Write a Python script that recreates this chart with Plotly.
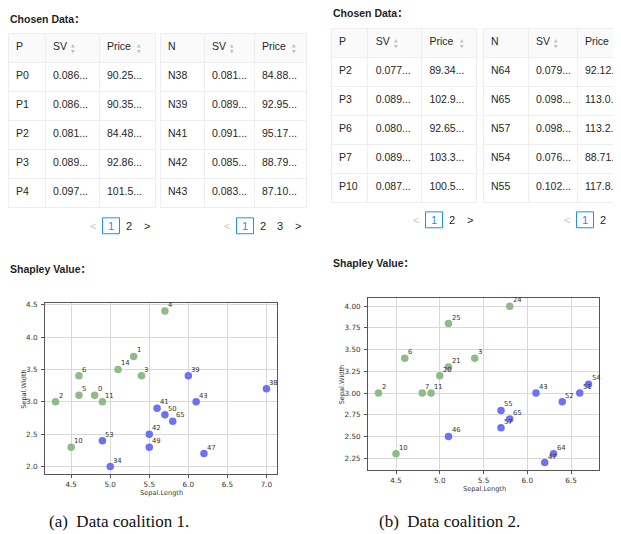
import math
import plotly.graph_objects as go

# The page body keeps the browser's default 8px margin, so the figure is
# drawn 8px smaller and all reference pixel positions are shifted by 8px.
OFF = 8
W, H = 621 - OFF, 534 - OFF

# ---------------- data ----------------
# Coalition 1 (panel a)
a_pos_ids = [0, 1, 2, 3, 4, 5, 6, 10, 11, 14]
a_pos_x = [4.8, 5.3, 4.3, 5.4, 5.7, 4.6, 4.6, 4.5, 4.9, 5.1]
a_pos_y = [3.1, 3.7, 3.0, 3.4, 4.4, 3.1, 3.4, 2.3, 3.0, 3.5]
a_neg_ids = [34, 38, 39, 41, 42, 43, 47, 49, 50, 53, 65]
a_neg_x = [5.0, 7.0, 6.0, 5.6, 5.5, 6.1, 6.2, 5.5, 5.7, 4.9, 5.8]
a_neg_y = [2.0, 3.2, 3.4, 2.9, 2.5, 3.0, 2.2, 2.3, 2.8, 2.4, 2.7]

a_P_names = ["P0", "P1", "P2", "P3", "P4"]
a_P_sv = ["0.086", "0.086", "0.081", "0.089", "0.097"]
a_P_price = ["90.25", "90.35", "84.48", "92.86", "101.5"]
a_N_names = ["N38", "N39", "N41", "N42", "N43"]
a_N_sv = ["0.081", "0.089", "0.091", "0.085", "0.083"]
a_N_price = ["84.88", "92.95", "95.17", "88.79", "87.10"]

# Coalition 2 (panel b)
b_pos_ids = [2, 3, 6, 7, 10, 11, 20, 21, 24, 25]
b_pos_x = [4.3, 5.4, 4.6, 4.8, 4.5, 4.9, 5.0, 5.1, 5.8, 5.1]
b_pos_y = [3.0, 3.4, 3.4, 3.0, 2.3, 3.0, 3.2, 3.3, 4.0, 3.8]
b_neg_ids = [43, 46, 47, 51, 52, 54, 55, 57, 64, 65]
b_neg_x = [6.1, 5.1, 6.2, 6.6, 6.4, 6.7, 5.7, 5.7, 6.3, 5.8]
b_neg_y = [3.0, 2.5, 2.2, 3.0, 2.9, 3.1, 2.8, 2.6, 2.3, 2.7]

b_P_names = ["P2", "P3", "P6", "P7", "P10"]
b_P_sv = ["0.077", "0.089", "0.080", "0.089", "0.087"]
b_P_price = ["89.34", "102.9", "92.65", "103.3", "100.5"]
b_N_names = ["N64", "N65", "N57", "N54", "N55"]
b_N_sv = ["0.079", "0.098", "0.098", "0.076", "0.102"]
b_N_price = ["92.12", "113.0", "113.2", "88.71", "117.8"]

captions = ["(a)  Data coalition 1.", "(b)  Data coalition 2."]
x_title, y_title = "Sepal.Length", "Sepal.Width"

# ---------------- helpers ----------------
def px(x):
    return (x - OFF) / W


def py(y):
    return 1 - (y - OFF) / H


GREEN = "rgb(143,186,137)"
BLUE = "rgb(108,114,246)"
TXT = "#262626"
TFONT = "Liberation Sans, Arial, Noto Sans CJK SC"
MFONT = "DejaVu Sans"
FS = 10.5

fig = go.Figure()
annotations = []
shapes = []


def ann(x, y, text, font, xanchor="center", yanchor="middle", **kw):
    d = dict(x=px(x), y=py(y), xref="paper", yref="paper", text=text,
             showarrow=False, xanchor=xanchor, yanchor=yanchor, font=font)
    d.update(kw)
    annotations.append(d)


def ell(vals):
    return [v + "..." for v in vals]


def add_table(x0, top, colw, head, cols):
    x1 = x0 + sum(colw)
    fig.add_trace(go.Table(
        domain=dict(x=[px(x0), min(1.0, px(x1))], y=[py(top + 180), py(top)]),
        columnwidth=colw,
        header=dict(values=head, fill_color="#fafafa", line_color="#eeeeee",
                    align="left", height=29,
                    font=dict(family=TFONT, size=FS, color=TXT)),
        cells=dict(values=cols, fill_color="white", line_color="#eeeeee",
                   align="left", height=29,
                   font=dict(family=TFONT, size=FS, color=TXT)),
    ))
    # sort icons for SV / Price columns
    hy = top + 14.5
    for ci, off in ((1, 28), (2, 40)):
        cx = min(x0 + sum(colw[:ci]) + off, 619)
        ann(cx, hy, "▲<br>▼", dict(size=4.5, color="#bfbfbf", family="DejaVu Sans"))


def add_pager(xstart, yc, n_items):
    pages = math.ceil(n_items / 5)
    f = dict(family=TFONT, size=11)
    ann(xstart, yc, "<", dict(f, color="#c8c8c8"))
    x = xstart + 18
    for p in range(1, pages + 1):
        if p == 1:
            shapes.append(dict(type="rect", xref="paper", yref="paper",
                               x0=px(x - 8.5), x1=px(x + 8.5), y0=py(yc + 8), y1=py(yc - 8),
                               line=dict(color="#1890ff", width=1), fillcolor="white",
                               layer="below"))
            ann(x, yc, "1", dict(f, color="#1890ff"))
        else:
            ann(x, yc, str(p), dict(f, color=TXT))
        x += 17.5
    ann(min(x + 0.5, 618), yc, ">", dict(f, color=TXT))


def label(x, y, text, size=10.5):
    ann(x, y, text, dict(family=TFONT, size=size, color="#1f1f1f"), xanchor="left")


def rng(vals):
    lo, hi = min(vals), max(vals)
    m = (hi - lo) * 0.05
    return [lo - m, hi + m]


def add_scatter(xa, ya, px_, py_, pid, nx, ny, nid):
    for xs, ys, ids, col in ((px_, py_, pid, GREEN), (nx, ny, nid, BLUE)):
        fig.add_trace(go.Scatter(
            x=xs, y=ys, mode="markers", xaxis=xa, yaxis=ya,
            marker=dict(size=7.5, color=col),
            showlegend=False, cliponaxis=False, hoverinfo="skip"))
        for xv, yv, i in zip(xs, ys, ids):
            annotations.append(dict(
                x=xv, y=yv, xref=xa, yref=ya, text=str(i), showarrow=False,
                xanchor="left", yanchor="bottom", xshift=1, yshift=0,
                font=dict(family=MFONT, size=6.8, color="#333333")))


title_font = dict(family=MFONT, size=6.6, color="#333333")

# ---------------- panel a ----------------
label(8, 16, "<b>Chosen Data：</b>")
add_table(8, 31, [37, 54, 56], ["P", "SV", "Price"], [a_P_names, ell(a_P_sv), ell(a_P_price)])
add_table(160, 31, [44, 50, 52], ["N", "SV", "Price"], [a_N_names, ell(a_N_sv), ell(a_N_price)])
add_pager(93, 224, len(a_pos_ids))
add_pager(227, 224, len(a_neg_ids))
label(8, 267, "<b>Shapley Value：</b>")
add_scatter("x", "y", a_pos_x, a_pos_y, a_pos_ids, a_neg_x, a_neg_y, a_neg_ids)
ann(161, 493, x_title, title_font)
ann(24, 388, y_title, title_font, textangle=-90)

# ---------------- panel b ----------------
label(331, 10, "<b>Chosen Data：</b>")
add_table(331, 26, [37, 54, 55], ["P", "SV", "Price"], [b_P_names, ell(b_P_sv), ell(b_P_price)])
add_table(483, 26, [45, 49, 44], ["N", "SV", "Price"], [b_N_names, ell(b_N_sv), ell(b_N_price)])
add_pager(416, 218, len(b_pos_ids))
add_pager(567, 218, len(b_neg_ids))
label(331, 261, "<b>Shapley Value：</b>")
add_scatter("x2", "y2", b_pos_x, b_pos_y, b_pos_ids, b_neg_x, b_neg_y, b_neg_ids)
ann(484, 488.5, x_title, title_font)
ann(342, 383.5, y_title, title_font, textangle=-90)

# captions
for cx, txt in ((119, captions[0]), (449, captions[1])):
    ann(cx, 521, txt, dict(family="Liberation Serif", size=17, color="#111111"))

axis_common = dict(showline=True, mirror=True, linecolor="#555555", linewidth=1,
                   showgrid=True, gridcolor="#d9d9d9", gridwidth=1, zeroline=False,
                   ticks="outside", ticklen=3, tickcolor="#555555",
                   tickfont=dict(family=MFONT, size=7.2, color="#333333"),
                   fixedrange=True)

fig.update_layout(
    width=W, height=H, margin=dict(l=0, r=0, t=0, b=0),
    paper_bgcolor="white", plot_bgcolor="white",
    xaxis=dict(axis_common, domain=[px(45), px(277)], range=rng(a_pos_x + a_neg_x),
               dtick=0.5, tick0=0, tickformat=".1f", anchor="y"),
    yaxis=dict(axis_common, domain=[py(474), py(302)], range=rng(a_pos_y + a_neg_y),
               dtick=0.5, tick0=0, tickformat=".1f", anchor="x", ticklabelstandoff=2),
    xaxis2=dict(axis_common, domain=[px(368), px(599)], range=rng(b_pos_x + b_neg_x),
                dtick=0.5, tick0=0, tickformat=".1f", anchor="y2"),
    yaxis2=dict(axis_common, domain=[py(470), py(297)], range=rng(b_pos_y + b_neg_y),
                dtick=0.25, tick0=0, tickformat=".2f", anchor="x2", ticklabelstandoff=2),
    annotations=annotations,
    shapes=shapes,
)

fig.write_html("out.html")
